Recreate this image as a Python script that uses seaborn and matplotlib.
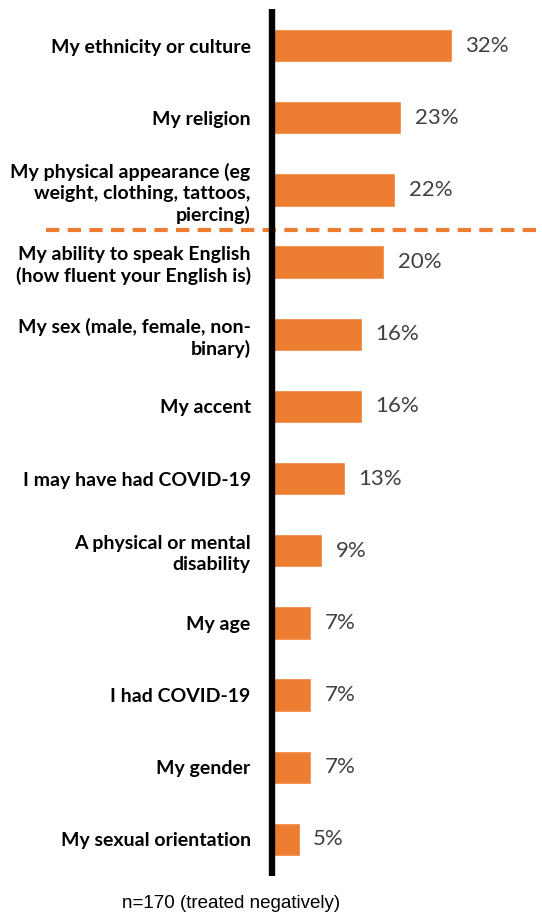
import matplotlib
matplotlib.use("Agg")
import matplotlib.pyplot as plt
import seaborn as sns
import pandas as pd

labels = [
    "My ethnicity or culture",
    "My religion",
    "My physical appearance (eg\nweight, clothing, tattoos,\npiercing)",
    "My ability to speak English\n(how fluent your English is)",
    "My sex (male, female, non-\nbinary)",
    "My accent",
    "I may have had COVID-19",
    "A physical or mental\ndisability",
    "My age",
    "I had COVID-19",
    "My gender",
    "My sexual orientation",
]
values = [32, 23, 22, 20, 16, 16, 13, 9, 7, 7, 7, 5]
note = "n=170 (treated negatively)"

orange = "#ED7D31"

sns.set_theme(style="white")
plt.rcParams["font.family"] = ["Lato", "DejaVu Sans"]

df = pd.DataFrame({"label": labels, "value": values})

fig = plt.figure(figsize=(5.42, 9.13), dpi=100)
ax = fig.add_axes([271.5 / 542, 37.5 / 913, 1 - 271.5 / 542, 866 / 913])

sns.barplot(data=df, x="value", y="label", color=orange, saturation=1,
            width=0.46, ax=ax)

ax.set_xlim(0, 48)
ax.set_ylim(11.5, -0.5)
ax.set_xlabel("")
ax.set_ylabel("")
ax.set_xticks([])
for s in ["top", "right", "bottom"]:
    ax.spines[s].set_visible(False)
ax.spines["left"].set_linewidth(4.6)
ax.spines["left"].set_color("black")
ax.spines["left"].set_capstyle("butt")
ax.spines["left"].set_zorder(5)
ax.tick_params(axis="y", length=0, pad=15)
ax.set_yticks(range(len(labels)))
ax.set_yticklabels(labels, fontsize=14, fontweight="bold", color="black",
                   linespacing=1.25, ha="right")

for i, v in enumerate(values):
    ax.text(v + 2.4, i, f"{v}%", va="center", ha="left", fontsize=16,
            color="#404040")

# separator between top three and the rest
ax.plot([-40, 48], [2.55, 2.55], ls=(0, (3.2, 2.0)), lw=3, color=orange,
        clip_on=False, zorder=4)

fig.text(231 / 542, 1 - 903 / 913, note, ha="center", va="center",
         fontsize=13.5, family="Liberation Sans", color="black")

fig.savefig("out.png", dpi=100)
